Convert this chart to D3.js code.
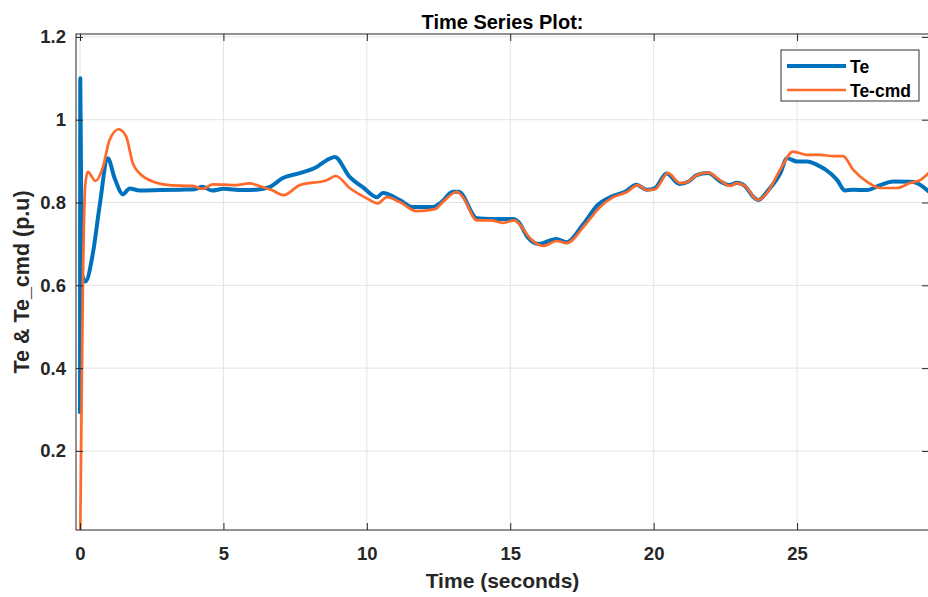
<!DOCTYPE html>
<html>
<head>
<meta charset="utf-8">
<script src="https://cdn.jsdelivr.net/npm/d3@7"></script>
<style>
    body { margin: 0; background: #fff; }
    svg { display: block; font-family: "Liberation Sans", Arial, sans-serif; }
</style>
</head>
<body>
<svg id="chart" width="928" height="597"></svg>
<script>
// Series data: [time (s), value (p.u)]
const teData = [
    [0, 0.29], [0.01, 1.10], [0.06, 0.63], [0.19, 0.609], [0.45, 0.678], [0.68, 0.79],
    [0.97, 0.907], [1.2, 0.86], [1.5, 0.82], [1.73, 0.834], [2.08, 0.829], [2.8, 0.83],
    [3.5, 0.831], [4.0, 0.832], [4.26, 0.838], [4.6, 0.829], [5.0, 0.833], [5.66, 0.83],
    [6.15, 0.831], [6.6, 0.837], [7.07, 0.859], [7.66, 0.871], [8.25, 0.886], [8.6, 0.902],
    [8.88, 0.91], [9.4, 0.862], [9.86, 0.837], [10.35, 0.813], [10.56, 0.823], [11.15, 0.806],
    [11.6, 0.789], [12.3, 0.789], [12.6, 0.801], [13.0, 0.826], [13.2, 0.826], [13.84, 0.762],
    [14.3, 0.76], [15.1, 0.76], [15.3, 0.752], [15.6, 0.717], [16.0, 0.70], [16.6, 0.712],
    [16.96, 0.704], [17.55, 0.748], [18.05, 0.794], [18.55, 0.815], [19.0, 0.826], [19.4, 0.843],
    [19.75, 0.831], [20.05, 0.835], [20.45, 0.87], [20.9, 0.845], [21.2, 0.85], [21.5, 0.866],
    [21.9, 0.871], [22.3, 0.852], [22.66, 0.842], [22.9, 0.848], [23.18, 0.84], [23.47, 0.814],
    [23.64, 0.806], [24.0, 0.83], [24.41, 0.87], [24.65, 0.907], [25.0, 0.899], [25.35, 0.899],
    [25.7, 0.891], [26.17, 0.87], [26.4, 0.854], [26.67, 0.829], [26.96, 0.831], [27.44, 0.83],
    [27.9, 0.842], [28.35, 0.851], [28.94, 0.85], [29.18, 0.847], [29.6, 0.826]
];

const teCmdData = [
    [0.0, -0.05], [0.1, 0.6], [0.18, 0.84], [0.27, 0.874], [0.54, 0.852], [0.8, 0.886],
    [1.03, 0.951], [1.35, 0.977], [1.61, 0.959], [1.84, 0.895], [2.05, 0.872], [2.31, 0.858],
    [3.12, 0.842], [3.94, 0.84], [4.28, 0.833], [4.62, 0.844], [5.43, 0.842], [5.9, 0.846],
    [6.33, 0.838], [6.68, 0.83], [7.1, 0.818], [7.66, 0.842], [8.6, 0.854], [8.92, 0.864],
    [9.4, 0.835], [10.0, 0.81], [10.38, 0.798], [10.7, 0.813], [11.15, 0.801], [11.73, 0.779],
    [12.37, 0.784], [12.65, 0.801], [13.14, 0.826], [13.35, 0.813], [13.84, 0.757], [14.3, 0.757],
    [14.74, 0.751], [15.16, 0.757], [15.35, 0.745], [15.7, 0.713], [16.14, 0.695], [16.62, 0.707],
    [16.96, 0.702], [17.6, 0.745], [18.13, 0.789], [18.59, 0.813], [19.06, 0.825], [19.45, 0.842],
    [19.77, 0.83], [20.05, 0.832], [20.5, 0.871], [20.92, 0.847], [21.16, 0.849], [21.5, 0.866],
    [21.9, 0.872], [22.31, 0.854], [22.66, 0.84], [22.9, 0.847], [23.18, 0.84], [23.64, 0.806],
    [23.95, 0.823], [24.41, 0.879], [24.86, 0.923], [25.35, 0.915], [25.8, 0.915], [26.27, 0.912],
    [26.6, 0.912], [26.96, 0.879], [27.44, 0.85], [27.9, 0.835], [28.48, 0.835], [28.94, 0.847],
    [29.29, 0.854], [29.6, 0.872]
];

const xTicks = [0, 5, 10, 15, 20, 25];
const yTicks = [0.2, 0.4, 0.6, 0.8, 1, 1.2];
const seriesNames = ["Te", "Te-cmd"];

// Layout
const plot = { left: 76, right: 929, top: 34, bottom: 530 };
const textColor = "#262626";
const gridColor = "#e3e3e3";
const colors = { te: "#0072BD", cmd: "#ff6929" };
const tickLen = 7;

const svg = d3.select("#chart");

const x = d3.scaleLinear().domain([-0.14, 29.6]).range([plot.left, plot.right]);
const y = d3.scaleLinear().domain([0.009, 1.207]).range([plot.bottom, plot.top]);

// Grid lines
svg.append("g")
    .selectAll("line")
    .data(xTicks)
    .join("line")
    .attr("x1", d => x(d)).attr("x2", d => x(d))
    .attr("y1", plot.top).attr("y2", plot.bottom)
    .attr("stroke", gridColor).attr("stroke-width", 1);

svg.append("g")
    .selectAll("line")
    .data(yTicks)
    .join("line")
    .attr("x1", plot.left).attr("x2", plot.right)
    .attr("y1", d => y(d)).attr("y2", d => y(d))
    .attr("stroke", gridColor).attr("stroke-width", 1);

// Clip the lines to the plot area
svg.append("clipPath")
    .attr("id", "plotClip")
    .append("rect")
    .attr("x", plot.left).attr("y", plot.top)
    .attr("width", plot.right - plot.left)
    .attr("height", plot.bottom - plot.top);

const line = d3.line()
    .x(d => x(d[0]))
    .y(d => y(d[1]))
    .curve(d3.curveMonotoneX);

const lines = svg.append("g").attr("clip-path", "url(#plotClip)");

lines.append("path")
    .datum(teData)
    .attr("d", line)
    .attr("fill", "none")
    .attr("stroke", colors.te)
    .attr("stroke-width", 4)
    .attr("stroke-linejoin", "round");

lines.append("path")
    .datum(teCmdData)
    .attr("d", line)
    .attr("fill", "none")
    .attr("stroke", colors.cmd)
    .attr("stroke-width", 2.7)
    .attr("stroke-linejoin", "round");

// Axes: bottom and left with inward ticks, plus mirrored ticks on top/right
const xAxis = d3.axisBottom(x).tickValues(xTicks).tickSizeInner(-tickLen).tickSizeOuter(0).tickPadding(17);
const yAxis = d3.axisLeft(y).tickValues(yTicks).tickSizeInner(-tickLen).tickSizeOuter(0).tickPadding(10)
    .tickFormat(d3.format("~g"));

const gx = svg.append("g").attr("transform", `translate(0,${plot.bottom})`).call(xAxis);
const gy = svg.append("g").attr("transform", `translate(${plot.left},0)`).call(yAxis);

[gx, gy].forEach(g => {
    g.select(".domain").remove();
    g.selectAll(".tick line").attr("stroke", textColor);
    g.selectAll(".tick text")
        .attr("fill", textColor)
        .attr("font-size", 18.5)
        .attr("font-weight", "bold")
        .attr("font-family", "Liberation Sans, Arial, sans-serif");
});

svg.append("g")
    .attr("transform", `translate(0,${plot.top})`)
    .call(d3.axisTop(x).tickValues(xTicks).tickSizeInner(-tickLen).tickSizeOuter(0).tickFormat(""))
    .call(g => g.select(".domain").remove())
    .selectAll(".tick line").attr("stroke", textColor);

svg.append("g")
    .attr("transform", `translate(${plot.right},0)`)
    .call(d3.axisRight(y).tickValues(yTicks).tickSizeInner(-tickLen).tickSizeOuter(0).tickFormat(""))
    .call(g => g.select(".domain").remove())
    .selectAll(".tick line").attr("stroke", textColor);

// Axes box
svg.append("rect")
    .attr("x", plot.left).attr("y", plot.top)
    .attr("width", plot.right - plot.left)
    .attr("height", plot.bottom - plot.top)
    .attr("fill", "none")
    .attr("stroke", textColor)
    .attr("stroke-width", 1);

// Title and axis labels
svg.append("text")
    .attr("x", (plot.left + plot.right) / 2)
    .attr("y", 29)
    .attr("text-anchor", "middle")
    .attr("font-size", 20)
    .attr("font-weight", "bold")
    .attr("fill", "#000")
    .text("Time Series Plot:");

svg.append("text")
    .attr("x", (plot.left + plot.right) / 2)
    .attr("y", 588)
    .attr("text-anchor", "middle")
    .attr("font-size", 21)
    .attr("font-weight", "bold")
    .attr("fill", textColor)
    .text("Time (seconds)");

svg.append("text")
    .attr("transform", `translate(29,${(plot.top + plot.bottom) / 2}) rotate(-90)`)
    .attr("text-anchor", "middle")
    .attr("font-size", 21.5)
    .attr("font-weight", "bold")
    .attr("fill", textColor)
    .text("Te & Te_cmd (p.u)");

// Legend
const legend = svg.append("g").attr("transform", "translate(781,50)");

legend.append("rect")
    .attr("width", 138).attr("height", 51)
    .attr("fill", "#fff")
    .attr("stroke", "#333")
    .attr("stroke-width", 1);

const legendColors = [colors.te, colors.cmd];
const legendWidths = [4, 2.7];

seriesNames.forEach((name, i) => {
    const ly = 16 + i * 24;
    legend.append("line")
        .attr("x1", 6).attr("x2", 65)
        .attr("y1", ly).attr("y2", ly)
        .attr("stroke", legendColors[i])
        .attr("stroke-width", legendWidths[i]);
    legend.append("text")
        .attr("x", 69).attr("y", ly + 6.5)
        .attr("font-size", 17.5)
        .attr("font-weight", "bold")
        .attr("fill", "#000")
        .text(name);
});
</script>
</body>
</html>
